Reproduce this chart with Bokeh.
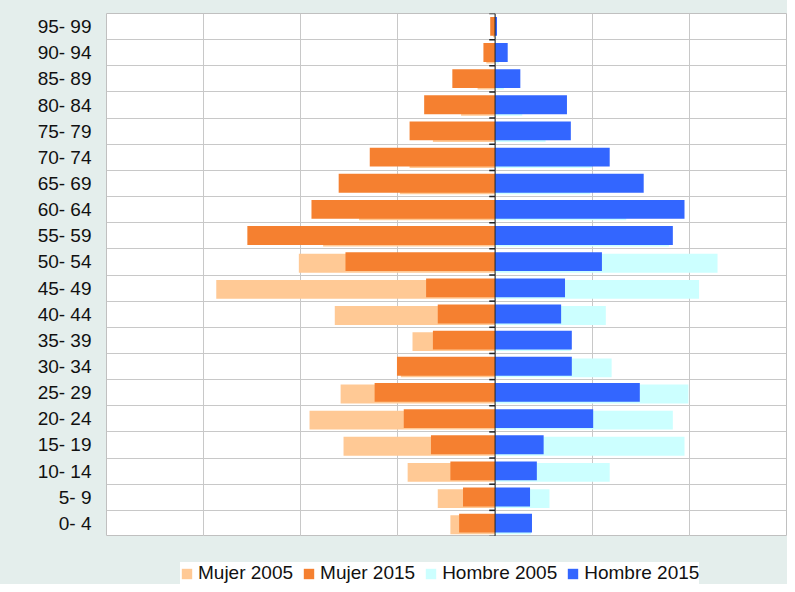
from bokeh.plotting import figure
from bokeh.layouts import column
from bokeh.models import ColumnDataSource, FixedTicker, Legend, LegendItem, Span
from bokeh.embed import file_html
from bokeh.resources import INLINE

# Age groups from bottom (youngest) to top (oldest)
age_groups = ["0- 4", "5- 9", "10- 14", "15- 19", "20- 24", "25- 29", "30- 34",
              "35- 39", "40- 44", "45- 49", "50- 54", "55- 59", "60- 64",
              "65- 69", "70- 74", "75- 79", "80- 84", "85- 89", "90- 94", "95- 99"]

# Values listed top (95-99) to bottom (0-4) as read, reversed below
mujer_2005_top = [0.02, 0.09, 0.18, 0.35, 0.64, 0.88, 0.98, 1.40, 1.77, 2.02,
                  2.87, 1.65, 0.85, 0.97, 1.59, 1.91, 1.56, 0.90, 0.59, 0.46]
mujer_2015_top = [0.05, 0.12, 0.44, 0.73, 0.88, 1.29, 1.61, 1.89, 2.55, 1.54,
                  0.71, 0.59, 0.64, 1.01, 1.24, 0.94, 0.66, 0.46, 0.33, 0.37]
hombre_2005_top = [0.01, 0.04, 0.09, 0.28, 0.52, 1.00, 0.98, 1.35, 1.79, 2.29,
                   2.10, 1.14, 0.78, 1.20, 1.99, 1.83, 1.95, 1.18, 0.56, 0.37]
hombre_2015_top = [0.02, 0.13, 0.26, 0.74, 0.78, 1.18, 1.53, 1.95, 1.83, 1.10,
                   0.72, 0.68, 0.79, 0.79, 1.49, 1.01, 0.50, 0.43, 0.36, 0.38]

mujer_2005 = mujer_2005_top[::-1]
mujer_2015 = mujer_2015_top[::-1]
hombre_2005 = hombre_2005_top[::-1]
hombre_2015 = hombre_2015_top[::-1]

series_labels = ["Mujer 2005", "Mujer 2015", "Hombre 2005", "Hombre 2015"]
series_colors = ["#ffc995", "#f58030", "#ccffff", "#3366ff"]

x_ticks = [-4, -3, -2, -1, 0, 1, 2, 3]

FONT = "Liberation Sans"
BG = "#e4eeec"

n = len(age_groups)
idx = list(range(n))
bounds = [i - 0.5 for i in range(n + 1)]

src = ColumnDataSource(dict(
    y=idx,
    y05=[i - 0.05 for i in idx],
    y15=[i + 0.01 for i in idx],
    m05=[-v for v in mujer_2005],
    m15=[-v for v in mujer_2015],
    h05=hombre_2005,
    h15=hombre_2015,
))
bar_specs = [("y05", "m05", 0), ("y15", "m15", 0), ("y05", 0, "h05"), ("y15", 0, "h15")]

p = figure(width=787, height=536, x_range=(-4, 3), y_range=(-0.5, n - 0.5),
           output_backend="svg", toolbar_location=None,
           min_border_left=106, min_border_right=1, min_border_top=13,
           min_border_bottom=0)
p.border_fill_color = BG
p.background_fill_color = "white"
p.outline_line_color = "#c0c0c0"
p.outline_line_width = 1

H = 0.72
for (yc, lc, rc), col in zip(bar_specs, series_colors):
    p.hbar(y=yc, left=lc, right=rc, height=H, source=src,
           fill_color=col, line_color=None)

# central axis line with small ticks at category boundaries
p.add_layout(Span(location=0, dimension="height", line_color="#222222", line_width=1))
p.segment(x0=[-0.06] * len(bounds), x1=[0] * len(bounds), y0=bounds, y1=bounds,
          line_color="#222222", line_width=1.5)

# grids
p.xgrid.ticker = FixedTicker(ticks=x_ticks)
p.xgrid.grid_line_color = "#c8c8c8"
p.ygrid.ticker = FixedTicker(ticks=bounds)
p.ygrid.grid_line_color = "#c8c8c8"

# y axis with age labels
p.yaxis.ticker = FixedTicker(ticks=idx)
p.yaxis.major_label_overrides = {i: lab for i, lab in zip(idx, age_groups)}
p.yaxis.major_label_text_font = FONT
p.yaxis.major_label_text_font_size = "19px"
p.yaxis.major_label_text_color = "#111111"
p.yaxis.axis_line_color = None
p.yaxis.major_tick_line_color = None
p.yaxis.minor_tick_line_color = None
p.yaxis.major_label_standoff = 9

p.xaxis.visible = False

# legend strip below the chart (same series, drawn out of view; only the legend shows)
p2 = figure(width=787, height=48, x_range=(-4, 3), y_range=(100, 101),
            output_backend="svg", toolbar_location=None,
            min_border_left=106, min_border_right=1, min_border_top=0,
            min_border_bottom=0)
p2.border_fill_color = BG
p2.background_fill_color = BG
p2.outline_line_color = None
p2.xaxis.visible = False
p2.yaxis.visible = False
p2.grid.visible = False

items = []
for (yc, lc, rc), lab, col in zip(bar_specs, series_labels, series_colors):
    r = p2.hbar(y=yc, left=lc, right=rc, height=H, source=src,
                fill_color=col, line_color=None)
    items.append(LegendItem(label=lab, renderers=[r]))

legend = Legend(items=items, orientation="horizontal", location=(74, 0))
legend.label_text_font = FONT
legend.label_text_font_size = "19px"
legend.label_text_color = "#111111"
legend.label_height = 20
legend.glyph_width = 13
legend.glyph_height = 13
legend.label_standoff = 5
legend.spacing = 9
legend.padding = 7
legend.margin = 0
legend.border_line_color = None
legend.background_fill_color = "white"
legend.background_fill_alpha = 1.0
p2.add_layout(legend, "center")

layout = column(p, p2, spacing=0)
layout.background = BG

open("out.html", "w").write(file_html(layout, INLINE))
